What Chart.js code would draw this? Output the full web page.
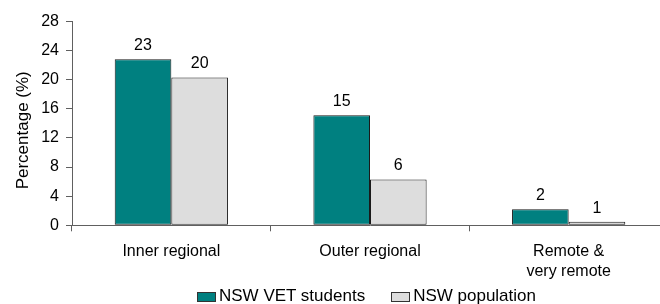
<!DOCTYPE html>
<html>
<head>
<meta charset="utf-8">
<script src="https://cdn.jsdelivr.net/npm/chart.js@4/dist/chart.umd.min.js"></script>
<style>
  html, body { margin: 0; padding: 0; background: #fff; overflow: hidden; }
  #wrap { position: relative; width: 660px; height: 304px; overflow: hidden; }
  #c { position: absolute; left: 0; top: 0; }
  #legend { position: absolute; left: 197px; top: 286px; display: flex; align-items: center;
            font-family: "Liberation Sans", Arial, sans-serif; font-size: 17px; line-height: 19px; color: #000; white-space: nowrap; }
  .item { display: flex; align-items: center; margin-right: 26px; }
  .box { width: 17px; height: 8px; border: 1px solid #333; margin-right: 3px; margin-top: 2px; }
</style>
</head>
<body>
<div id="wrap">
  <canvas id="c" width="668" height="304"></canvas>
  <div id="legend"></div>
</div>
<script>
const categories = ["Inner regional", "Outer regional", ["Remote &", "very remote"]];
const seriesNames = ["NSW VET students", "NSW population"];
const vetStudents = [22.8, 15.1, 2.2];
const nswPopulation = [20.3, 6.3, 0.5];
const yTicks = [0, 4, 8, 12, 16, 20, 24, 28];
const yTitle = "Percentage (%)";

const FONT = "'Liberation Sans', Arial, sans-serif";
const AXIS = '#606060';

const valueLabels = {
  id: 'valueLabels',
  afterDatasetsDraw(chart) {
    const ctx = chart.ctx;
    ctx.save();
    ctx.font = '16px ' + FONT;
    ctx.fillStyle = '#000';
    ctx.textAlign = 'center';
    ctx.textBaseline = 'alphabetic';
    chart.data.datasets.forEach((ds, i) => {
      chart.getDatasetMeta(i).data.forEach((bar, j) => {
        ctx.fillText(String(Math.round(ds.data[j])), bar.x, bar.y - 9);
      });
    });
    ctx.restore();
  }
};

const yTitlePlugin = {
  id: 'yTitlePlugin',
  afterDraw(chart) {
    const ctx = chart.ctx;
    const area = chart.chartArea;
    ctx.save();
    ctx.font = '17px ' + FONT;
    ctx.fillStyle = '#000';
    ctx.textAlign = 'center';
    ctx.textBaseline = 'middle';
    ctx.translate(23, (area.top + area.bottom) / 2 + 7);
    ctx.rotate(-Math.PI / 2);
    ctx.fillText(yTitle, 0, 0);
    ctx.restore();
  }
};

const chart = new Chart(document.getElementById('c'), {
  type: 'bar',
  data: {
    labels: categories,
    datasets: [
      { label: seriesNames[0], data: vetStudents, backgroundColor: '#008080', borderColor: '#1a1a1a', borderWidth: 1, borderSkipped: false },
      { label: seriesNames[1], data: nswPopulation, backgroundColor: '#DDDDDD', borderColor: '#1a1a1a', borderWidth: 1, borderSkipped: false }
    ]
  },
  options: {
    responsive: false,
    devicePixelRatio: 1,
    animation: false,
    layout: { padding: { top: 21.3, left: 0, right: 0, bottom: 0 } },
    datasets: { bar: { categoryPercentage: 0.57, barPercentage: 1.0 } },
    plugins: { legend: { display: false }, tooltip: { enabled: false } },
    scales: {
      x: {
        grid: { display: true, drawOnChartArea: false, offset: true, tickLength: 6, color: AXIS },
        border: { display: true, color: AXIS, width: 1 },
        ticks: { font: { family: FONT, size: 16, lineHeight: 1.25 }, color: '#000', padding: 10, maxRotation: 0, autoSkip: false },
        afterFit(scale) { scale.height = 304 - 225.3; }
      },
      y: {
        min: 0, max: 28,
        afterBuildTicks(scale) { scale.ticks = yTicks.map(v => ({ value: v })); },
        grid: { display: true, drawOnChartArea: false, tickLength: 6, color: AXIS },
        border: { display: true, color: AXIS, width: 1 },
        ticks: { font: { family: FONT, size: 16 }, color: '#000', padding: 7 },
        title: { display: false },
        afterFit(scale) { scale.width = 72; }
      }
    }
  },
  plugins: [valueLabels, yTitlePlugin]
});

const legend = document.getElementById('legend');
chart.data.datasets.forEach(ds => {
  const item = document.createElement('div');
  item.className = 'item';
  const box = document.createElement('span');
  box.className = 'box';
  box.style.background = ds.backgroundColor;
  const txt = document.createElement('span');
  txt.textContent = ds.label;
  item.appendChild(box);
  item.appendChild(txt);
  legend.appendChild(item);
});
</script>
</body>
</html>
